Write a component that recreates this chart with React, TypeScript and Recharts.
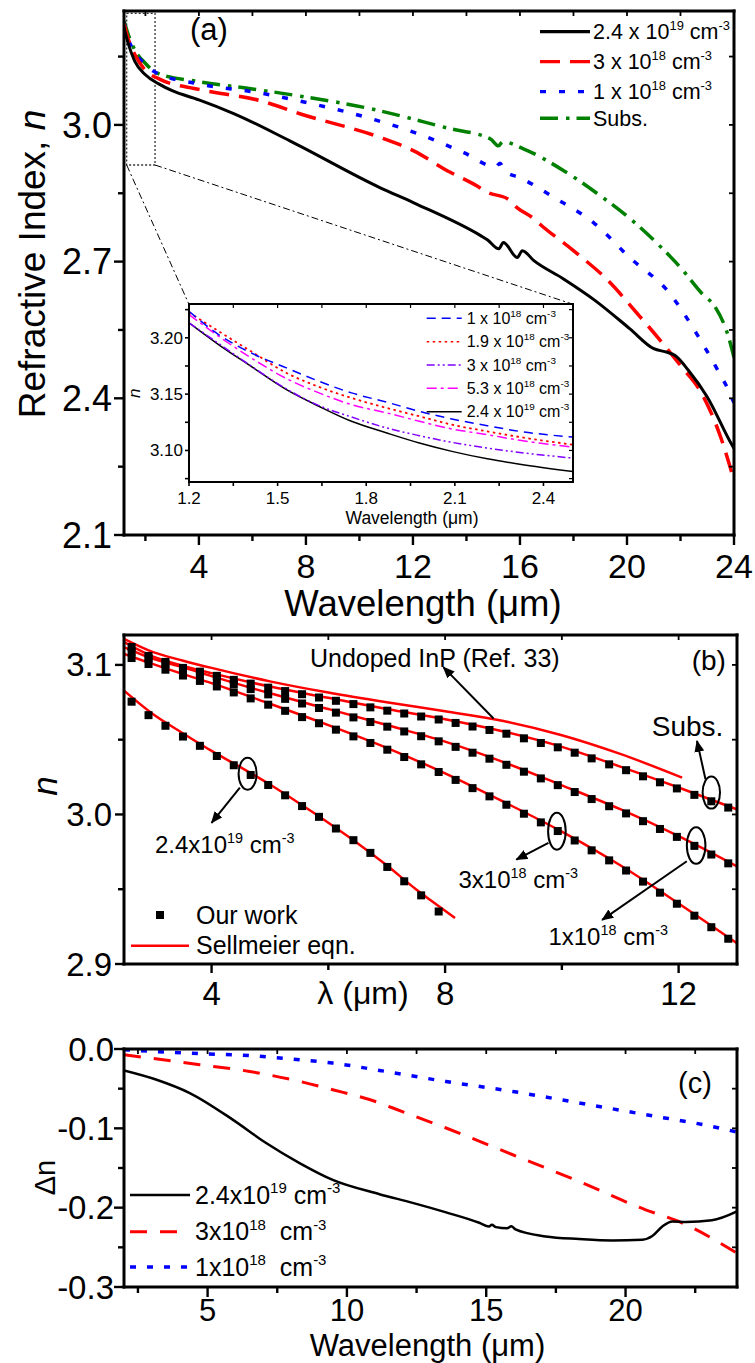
import React from 'react';
import {
  ComposedChart, Line, Scatter, XAxis, YAxis, ReferenceArea, ReferenceLine, ReferenceDot, CartesianGrid,
} from 'recharts';

const FONT = '"Liberation Sans", Arial, Helvetica, sans-serif';
const RED = '#ff0000', BLUE = '#0000ff', GREEN = '#008000', BLACK = '#000000', PURPLE = '#8000ff', MAGENTA = '#ff00ff';

// ---------------- Panel (a): refractive index vs wavelength ----------------
const aWl24e19 = [1.2, 1.35, 1.6, 2.0, 2.5, 3.0, 4.0, 5.3, 7.4, 10.78, 12.03, 14.53, 14.78, 15.21, 15.38, 15.9, 16.09, 16.52, 17.6, 18.8, 20.1, 21.0, 21.5, 21.8, 22.3, 23.0, 23.9, 24.0];
const aN24e19 = [3.213, 3.18, 3.14, 3.11, 3.09, 3.075, 3.055, 3.025, 2.965, 2.862, 2.829, 2.757, 2.748, 2.728, 2.742, 2.709, 2.724, 2.702, 2.663, 2.615, 2.553, 2.509, 2.501, 2.494, 2.461, 2.403, 2.30, 2.29];
const aWl3e18 = [1.2, 1.35, 1.6, 2.0, 2.55, 4.0, 6.3, 7.8, 10.8, 12.03, 13.3, 14.4, 14.78, 15.53, 15.9, 16.52, 16.77, 18.0, 19.3, 20.4, 21.4, 22.0, 22.8, 23.5, 24.0];
const aN3e18 = [3.222, 3.19, 3.155, 3.12, 3.10, 3.078, 3.053, 3.024, 2.972, 2.943, 2.899, 2.866, 2.852, 2.838, 2.818, 2.794, 2.781, 2.724, 2.658, 2.585, 2.516, 2.472, 2.41, 2.315, 2.22];
const aWl1e18 = [1.2, 1.35, 1.6, 2.0, 2.42, 4.0, 6.3, 7.8, 10.3, 12.4, 13.9, 15.1, 15.25, 15.45, 16.0, 17.3, 18.8, 20.1, 21.6, 22.6, 23.4, 23.8, 24.0];
const aN1e18 = [3.224, 3.19, 3.16, 3.132, 3.114, 3.090, 3.070, 3.052, 3.016, 2.976, 2.939, 2.908, 2.916, 2.898, 2.884, 2.84, 2.783, 2.709, 2.63, 2.542, 2.461, 2.417, 2.39];
const aWlSubs = [1.2, 1.35, 1.6, 2.0, 2.42, 4.0, 6.0, 7.8, 10.3, 13.3, 14.9, 15.2, 15.35, 16.15, 17.65, 18.9, 20.3, 21.4, 22.0, 22.8, 23.3, 23.8, 24.0];
const aNSubs = [3.228, 3.20, 3.165, 3.135, 3.114, 3.095, 3.079, 3.063, 3.037, 2.993, 2.969, 2.954, 2.963, 2.947, 2.899, 2.849, 2.785, 2.724, 2.687, 2.63, 2.60, 2.534, 2.49];

const aXTicks = [2, 4, 6, 8, 10, 12, 14, 16, 18, 20, 22, 24];
const aXMajor = [4, 8, 12, 16, 20, 24];
const aTopTicks = [2, 4, 6, 8, 10, 12, 14, 16, 18, 20, 22];
const aYTicks = [2.1, 2.25, 2.4, 2.55, 2.7, 2.85, 3.0, 3.15];
const aYMajor = [2.1, 2.4, 2.7, 3.0];
const aRightTicks = [2.25, 2.4, 2.55, 2.7, 2.85, 3.0, 3.15];

// ---------------- Inset of (a) ----------------
const iWl = [1.2, 1.3, 1.41, 1.53, 1.64, 1.75, 1.87, 1.98, 2.09, 2.21, 2.32, 2.5];
const iN1e18 = [3.2235, 3.2029, 3.1866, 3.1733, 3.1614, 3.1511, 3.1428, 3.1347, 3.1279, 3.122, 3.1169, 3.1119];
const iN19e18 = [3.2225, 3.2059, 3.1880, 3.1688, 3.1564, 3.1466, 3.1377, 3.1303, 3.1229, 3.1169, 3.1119, 3.1051];
const iN3e18 = [3.2133, 3.1950, 3.1750, 3.1546, 3.1398, 3.1297, 3.1199, 3.1131, 3.1072, 3.1021, 3.0982, 3.0932];
const iN53e18 = [3.2207, 3.2014, 3.1822, 3.1638, 3.1511, 3.1407, 3.1333, 3.1259, 3.1191, 3.114, 3.109, 3.103];
const iN24e19 = [3.2133, 3.194, 3.1747, 3.154, 3.1392, 3.1259, 3.1155, 3.1066, 3.0992, 3.0926, 3.0878, 3.0813];
const iXTicks = [1.2, 1.35, 1.5, 1.65, 1.8, 1.95, 2.1, 2.25, 2.4];
const iXMajor = [1.2, 1.5, 1.8, 2.1, 2.4];
const iYTicks = [3.075, 3.1, 3.125, 3.15, 3.175, 3.2, 3.225];
const iYMajor = [3.1, 3.15, 3.2];

// ---------------- Panel (b): measured n and Sellmeier fits ----------------
const bWlUndoped = [2.5, 3.0, 3.5, 4.0, 5.0, 6.0, 7.0, 8.0, 9.0, 10.0, 11.0, 12.06];
const bNUndoped = [3.1174, 3.1085, 3.1030, 3.0980, 3.0890, 3.0815, 3.0750, 3.0690, 3.0625, 3.0530, 3.0405, 3.0246];
const bWlFit = [2.5, 3.0, 3.5, 4.0, 5.0, 6.0, 7.0, 8.0, 9.0, 10.0, 11.0, 12.0, 13.0];
const bFitSubs = [3.1152, 3.1055, 3.0995, 3.0945, 3.0855, 3.0780, 3.0705, 3.0637, 3.0555, 3.0452, 3.0320, 3.0180, 3.0034];
const bFit1e18 = [3.1119, 3.1040, 3.0985, 3.0925, 3.0810, 3.0705, 3.0598, 3.0487, 3.0350, 3.0195, 3.0035, 2.9855, 2.9653];
const bFit3e18 = [3.1074, 3.1005, 3.0940, 3.0878, 3.0740, 3.0597, 3.0445, 3.0275, 3.0085, 2.9885, 2.9660, 2.9405, 2.9139];
const bWlFit24 = [2.5, 3.0, 3.5, 4.0, 4.5, 5.0, 5.5, 6.0, 6.5, 7.0, 7.5, 7.74, 8.17];
const bFit24e19 = [3.0828, 3.0670, 3.0545, 3.0425, 3.0315, 3.0200, 3.0075, 2.9945, 2.9808, 2.9660, 2.9500, 2.9430, 2.9307];

const bWlMeas = [2.63, 2.92, 3.21, 3.51, 3.80, 4.09, 4.38, 4.67, 4.97, 5.26, 5.55, 5.84, 6.13, 6.43, 6.72, 7.01, 7.30, 7.59, 7.89, 8.18, 8.47, 8.76, 9.05, 9.35, 9.64, 9.93, 10.22, 10.51, 10.81, 11.10, 11.39, 11.68, 11.97, 12.27, 12.56, 12.85];
const bMeasSubs = [3.112, 3.106, 3.102, 3.098, 3.0955, 3.0927, 3.090, 3.0875, 3.0848, 3.0825, 3.0804, 3.0782, 3.076, 3.0738, 3.0716, 3.0694, 3.0675, 3.0655, 3.0635, 3.0612, 3.0588, 3.0565, 3.054, 3.0509, 3.0478, 3.0449, 3.0413, 3.0375, 3.0335, 3.0296, 3.0255, 3.0215, 3.0174, 3.0131, 3.0088, 3.0046];
const bMeas1e18 = [3.1088, 3.1043, 3.1007, 3.0974, 3.0939, 3.0905, 3.0871, 3.0838, 3.0803, 3.0773, 3.0742, 3.0712, 3.0681, 3.0649, 3.0618, 3.0587, 3.0555, 3.0523, 3.0489, 3.0452, 3.0413, 3.0373, 3.0332, 3.0286, 3.0241, 3.0196, 3.015, 3.0103, 3.0055, 3.0007, 2.9955, 2.9903, 2.985, 2.979, 2.9732, 2.9673];
const bMeas3e18 = [3.1046, 3.1006, 3.0968, 3.0929, 3.0893, 3.0856, 3.0816, 3.0776, 3.0734, 3.0693, 3.0651, 3.061, 3.0567, 3.0522, 3.0478, 3.0433, 3.0384, 3.0335, 3.0284, 3.0231, 3.0176, 3.0121, 3.0065, 3.0005, 2.9947, 2.9889, 2.9826, 2.976, 2.9693, 2.9625, 2.9551, 2.9477, 2.9403, 2.9323, 2.9246, 2.9169];
const bWlMeas24 = [2.63, 2.92, 3.21, 3.51, 3.80, 4.09, 4.38, 4.67, 4.97, 5.26, 5.55, 5.84, 6.13, 6.43, 6.72, 7.01, 7.30, 7.59, 7.89];
const bMeas24e19 = [3.0754, 3.0664, 3.0593, 3.0521, 3.0459, 3.0391, 3.0329, 3.0264, 3.0197, 3.0128, 3.0056, 2.9984, 2.9906, 2.9828, 2.9743, 2.9649, 2.9553, 2.9459, 2.9351];

const bXTicks = [4, 6, 8, 10, 12];
const bXMajor = [4, 8, 12];
const bYTicks = [2.9, 2.95, 3.0, 3.05, 3.1];
const bYMajor = [2.9, 3.0, 3.1];
const bRightTicks = [2.95, 3.0, 3.05, 3.1];

// ---------------- Panel (c): delta n ----------------
const cWl24e19 = [2.0, 3.17, 4.36, 5.9, 7.1, 8.3, 9.49, 11.17, 12.36, 13.56, 14.75, 15.1, 15.2, 15.35, 15.75, 15.9, 16.05, 17.13, 18.33, 19.52, 20.6, 20.96, 21.32, 21.68, 22.16, 23.1, 24.0];
const cD24e19 = [-0.027, -0.0387, -0.0555, -0.089, -0.1185, -0.1438, -0.165, -0.183, -0.194, -0.206, -0.219, -0.2237, -0.2215, -0.2245, -0.226, -0.2235, -0.2275, -0.2363, -0.2395, -0.2413, -0.2405, -0.2358, -0.2237, -0.2174, -0.2181, -0.216, -0.2048];
const cWl3e18 = [2.0, 4.72, 6.51, 8.3, 9.49, 11.17, 11.65, 13.56, 15.95, 18.33, 20.72, 21.91, 24.0];
const cD3e18 = [-0.0072, -0.0198, -0.0283, -0.0408, -0.0513, -0.068, -0.0744, -0.0996, -0.1333, -0.167, -0.2027, -0.2174, -0.2573];
const cWl1e18 = [2.0, 4.72, 6.51, 8.3, 9.49, 11.17, 13.56, 15.95, 18.33, 20.72, 23.1, 24.0];
const cD1e18 = [-0.001, -0.0059, -0.0084, -0.0135, -0.0177, -0.027, -0.041, -0.0535, -0.068, -0.0828, -0.0976, -0.1047];
const cXTicks = [2.5, 5, 7.5, 10, 12.5, 15, 17.5, 20, 22.5];
const cXMajor = [5, 10, 15, 20];
const cYTicks = [-0.3, -0.25, -0.2, -0.15, -0.1, -0.05, 0];
const cYMajor = [-0.3, -0.2, -0.1, 0];
const cRightTicks = [-0.25, -0.2, -0.15, -0.1, -0.05];

const zip = (xs: number[], ys: number[]) => xs.map((x, i) => ({ x, y: ys[i] }));

// dash styles
const DASH_A = { red: '20 10', blue: '6 13', green: '18 8 3.5 7' };
const DASH_I = { blue: '9 6', red: '2.5 3.5', purple: '8 3 2 3 2 3', magenta: '10 4 3 4' };
const DASH_C = { red: '17 13', blue: '6 11' };

const isIn = (v: number, arr: number[]) => arr.some((m) => Math.abs(m - v) < 1e-6);

type TickOpts = {
  side: 'bottom' | 'top' | 'left' | 'right';
  majors: number[];
  major: number;
  minor: number;
  sw: number;
  label?: boolean;
  fs?: number;
  off?: number;
  fmt?: (v: number) => string;
};

const makeTick = (o: TickOpts) => (props: any) => {
  const { x, y, payload } = props;
  const v = payload.value as number;
  const maj = isIn(v, o.majors);
  const len = maj ? o.major : o.minor;
  const ls = { stroke: '#000', strokeWidth: o.sw };
  let line: any = null;
  let text: any = null;
  const label = o.fmt ? o.fmt(v) : String(v);
  if (o.side === 'bottom') {
    line = <line x1={x} y1={y} x2={x} y2={y + len} {...ls} />;
    if (o.label && maj) {
      text = (
        <text x={x} y={y + (o.off || 0)} textAnchor="middle" fontSize={o.fs} fontFamily={FONT} fill="#000">{label}</text>
      );
    }
  } else if (o.side === 'top') {
    line = <line x1={x} y1={y} x2={x} y2={y + len} {...ls} />;
  } else if (o.side === 'left') {
    line = <line x1={x - len} y1={y} x2={x} y2={y} {...ls} />;
    if (o.label && maj) {
      text = (
        <text x={x - (o.off || 0)} y={y + (o.fs || 0) * 0.35} textAnchor="end" fontSize={o.fs} fontFamily={FONT} fill="#000">{label}</text>
      );
    }
  } else {
    line = <line x1={x - len} y1={y} x2={x} y2={y} {...ls} />;
  }
  return <g>{line}{text}</g>;
};

type FrameCfg = {
  xDomain: [number, number]; yDomain: [number, number];
  xTicks: number[]; xMajor: number[]; topTicks: number[];
  yTicks: number[]; yMajor: number[]; rightTicks: number[];
  major: number; minor: number; inward: number; sw: number;
  xFs: number; xOff: number; yFs: number; yOff: number;
  xFmt: (v: number) => string; yFmt: (v: number) => string;
};

function frameAxes(c: FrameCfg) {
  const axisLine = { stroke: '#000', strokeWidth: c.sw, strokeLinecap: 'square' as const };
  const common = { type: 'number' as const, allowDataOverflow: true, interval: 0 as const, tickSize: 0, tickMargin: 0, tickLine: false, axisLine };
  return [
    <XAxis key="xb" xAxisId={0} dataKey="x" domain={c.xDomain} ticks={c.xTicks} height={1} {...common}
      tick={makeTick({ side: 'bottom', majors: c.xMajor, major: c.major, minor: c.minor, sw: c.sw * 0.8, label: true, fs: c.xFs, off: c.xOff, fmt: c.xFmt })} />,
    <XAxis key="xt" xAxisId="top" orientation="top" dataKey="x" domain={c.xDomain} ticks={c.topTicks} height={1} {...common}
      tick={makeTick({ side: 'top', majors: c.topTicks, major: c.inward, minor: c.inward, sw: c.sw * 0.6 })} />,
    <YAxis key="yl" yAxisId={0} domain={c.yDomain} ticks={c.yTicks} width={1} {...common}
      tick={makeTick({ side: 'left', majors: c.yMajor, major: c.major, minor: c.minor, sw: c.sw * 0.8, label: true, fs: c.yFs, off: c.yOff, fmt: c.yFmt })} />,
    <YAxis key="yr" yAxisId="right" orientation="right" domain={c.yDomain} ticks={c.rightTicks} width={1} {...common}
      tick={makeTick({ side: 'right', majors: c.rightTicks, major: c.inward, minor: c.inward, sw: c.sw * 0.6 })} />,
  ];
}

const lineCommon = { type: 'monotone' as const, dataKey: 'y', dot: false, activeDot: false, isAnimationActive: false };

function ConcText({ x, y, fs, base, exp, gap = ' ', anchor = 'start', supRatio = 0.6 }: any) {
  const s = fs * supRatio;
  const up = fs * 0.42;
  return (
    <text x={x} y={y} fontSize={fs} fontFamily={FONT} fill="#000" textAnchor={anchor} style={{ whiteSpace: 'pre' }}>
      {base}
      <tspan fontSize={s} dy={-up}>{exp}</tspan>
      <tspan dy={up}>{gap + 'cm'}</tspan>
      <tspan fontSize={s} dy={-up}>-3</tspan>
    </text>
  );
}

const ellipseShape = (rx: number, ry: number) => (p: any) => (
  <ellipse cx={p.cx} cy={p.cy} rx={rx} ry={ry} fill="none" stroke="#000" strokeWidth={2} />
);
const textShape = (txt: string, fs: number) => (p: any) => (
  <text x={p.cx} y={p.cy} fontSize={fs} fontFamily={FONT} fill="#000">{txt}</text>
);
const concShape = (base: string, exp: string, fs: number) => (p: any) => (
  <ConcText x={p.cx} y={p.cy} fs={fs} base={base} exp={exp} />
);
const squareShape = (p: any) => <rect x={p.cx - 4} y={p.cy - 4} width={8} height={8} fill="#000" />;

function PanelA() {
  return (
    <ComposedChart width={755} height={600} margin={{ top: 10, right: 20, bottom: 64, left: 123 }}>
      {frameAxes({
        xDomain: [1.2, 24], yDomain: [2.1, 3.25], xTicks: aXTicks, xMajor: aXMajor, topTicks: aTopTicks,
        yTicks: aYTicks, yMajor: aYMajor, rightTicks: aRightTicks, major: 10, minor: 6, inward: 5, sw: 3,
        xFs: 34, xOff: 43, yFs: 36, yOff: 12, xFmt: (v) => String(v), yFmt: (v) => v.toFixed(1),
      })}
      <ReferenceArea x1={1.3} x2={2.36} y1={2.912} y2={3.245} fill="none" stroke="#333" strokeWidth={1.3} strokeDasharray="2 2" />
      <ReferenceLine segment={[{ x: 1.3, y: 2.912 }, { x: 3.63, y: 2.606 }]} stroke="#000" strokeWidth={1} strokeDasharray="7 3 2 3" />
      <ReferenceLine segment={[{ x: 2.36, y: 2.912 }, { x: 18.0, y: 2.606 }]} stroke="#000" strokeWidth={1} strokeDasharray="7 3 2 3" />
      <Line {...lineCommon} data={zip(aWlSubs, aNSubs)} stroke={GREEN} strokeWidth={3.5} strokeDasharray={DASH_A.green} />
      <Line {...lineCommon} data={zip(aWl1e18, aN1e18)} stroke={BLUE} strokeWidth={3.5} strokeDasharray={DASH_A.blue} />
      <Line {...lineCommon} data={zip(aWl3e18, aN3e18)} stroke={RED} strokeWidth={3.5} strokeDasharray={DASH_A.red} />
      <Line {...lineCommon} data={zip(aWl24e19, aN24e19)} stroke={BLACK} strokeWidth={3} />
    </ComposedChart>
  );
}

function Inset() {
  return (
    <ComposedChart width={470} height={240} margin={{ top: 7, right: 16, bottom: 53, left: 68 }}>
      <CartesianGrid horizontal={false} vertical={false} fill="#ffffff" />
      {frameAxes({
        xDomain: [1.2, 2.5], yDomain: [3.072, 3.23], xTicks: iXTicks, xMajor: iXMajor, topTicks: iXTicks,
        yTicks: iYTicks, yMajor: iYMajor, rightTicks: iYTicks, major: 4, minor: 4, inward: 4, sw: 2,
        xFs: 17, xOff: 22, yFs: 17, yOff: 6, xFmt: (v) => v.toFixed(1), yFmt: (v) => v.toFixed(2),
      })}
      <Line {...lineCommon} data={zip(iWl, iN24e19)} stroke={BLACK} strokeWidth={1.5} />
      <Line {...lineCommon} data={zip(iWl, iN3e18)} stroke={PURPLE} strokeWidth={1.5} strokeDasharray={DASH_I.purple} />
      <Line {...lineCommon} data={zip(iWl, iN53e18)} stroke={MAGENTA} strokeWidth={1.5} strokeDasharray={DASH_I.magenta} />
      <Line {...lineCommon} data={zip(iWl, iN19e18)} stroke={RED} strokeWidth={1.8} strokeDasharray={DASH_I.red} />
      <Line {...lineCommon} data={zip(iWl, iN1e18)} stroke={BLUE} strokeWidth={1.5} strokeDasharray={DASH_I.blue} />
    </ComposedChart>
  );
}

function PanelB() {
  const arrow = { stroke: '#000', strokeWidth: 2, markerEnd: 'url(#arrowHead)' };
  return (
    <ComposedChart width={755} height={420} margin={{ top: 34, right: 17, bottom: 55, left: 123 }}>
      {frameAxes({
        xDomain: [2.5, 13], yDomain: [2.9, 3.12], xTicks: bXTicks, xMajor: bXMajor, topTicks: bXTicks,
        yTicks: bYTicks, yMajor: bYMajor, rightTicks: bRightTicks, major: 9, minor: 6, inward: 5, sw: 3,
        xFs: 33, xOff: 41, yFs: 33, yOff: 12, xFmt: (v) => String(v), yFmt: (v) => v.toFixed(1),
      })}
      <Scatter data={zip(bWlMeas, bMeasSubs)} dataKey="y" shape={squareShape} isAnimationActive={false} />
      <Scatter data={zip(bWlMeas, bMeas1e18)} dataKey="y" shape={squareShape} isAnimationActive={false} />
      <Scatter data={zip(bWlMeas, bMeas3e18)} dataKey="y" shape={squareShape} isAnimationActive={false} />
      <Scatter data={zip(bWlMeas24, bMeas24e19)} dataKey="y" shape={squareShape} isAnimationActive={false} />
      <Line {...lineCommon} data={zip(bWlUndoped, bNUndoped)} stroke={RED} strokeWidth={2.5} />
      <Line {...lineCommon} data={zip(bWlFit, bFitSubs)} stroke={RED} strokeWidth={2.5} />
      <Line {...lineCommon} data={zip(bWlFit, bFit1e18)} stroke={RED} strokeWidth={2.5} />
      <Line {...lineCommon} data={zip(bWlFit, bFit3e18)} stroke={RED} strokeWidth={2.5} />
      <Line {...lineCommon} data={zip(bWlFit24, bFit24e19)} stroke={RED} strokeWidth={2.5} />

      <ReferenceDot x={5.685} y={3.0987} shape={textShape('Undoped InP (Ref. 33)', 25)} />
      <ReferenceLine segment={[{ x: 8.83, y: 3.0642 }, { x: 7.97, y: 3.0985 }]} {...arrow} />
      <ReferenceDot x={11.54} y={3.0526} shape={textShape('Subs.', 28)} />
      <ReferenceDot x={12.56} y={3.0146} shape={ellipseShape(8.7, 16)} />
      <ReferenceLine segment={[{ x: 12.46, y: 3.0235 }, { x: 12.315, y: 3.0492 }]} {...arrow} />
      <ReferenceDot x={12.3} y={2.9792} shape={ellipseShape(9.3, 18.3)} />
      <ReferenceLine segment={[{ x: 12.14, y: 2.9687 }, { x: 10.69, y: 2.9295 }]} {...arrow} />
      <ReferenceDot x={9.77} y={2.9128} shape={concShape('1x10', '18', 24)} />
      <ReferenceDot x={9.915} y={2.9888} shape={ellipseShape(8.8, 18.5)} />
      <ReferenceLine segment={[{ x: 9.77, y: 2.981 }, { x: 9.22, y: 2.9698 }]} {...arrow} />
      <ReferenceDot x={8.23} y={2.9508} shape={concShape('3x10', '18', 24)} />
      <ReferenceDot x={4.617} y={3.0273} shape={ellipseShape(9, 16)} />
      <ReferenceLine segment={[{ x: 4.485, y: 3.0179 }, { x: 4.0, y: 2.9944 }]} {...arrow} />
      <ReferenceDot x={3.03} y={2.9743} shape={concShape('2.4x10', '19', 24)} />
    </ComposedChart>
  );
}

function PanelC() {
  return (
    <ComposedChart width={755} height={343} margin={{ top: 28, right: 17, bottom: 75, left: 123 }}>
      {frameAxes({
        xDomain: [2, 24], yDomain: [-0.3, 0], xTicks: cXTicks, xMajor: cXMajor, topTicks: cXTicks,
        yTicks: cYTicks, yMajor: cYMajor, rightTicks: cRightTicks, major: 10, minor: 6, inward: 5, sw: 3,
        xFs: 31, xOff: 34, yFs: 33, yOff: 10, xFmt: (v) => String(v), yFmt: (v) => v.toFixed(1),
      })}
      <Line {...lineCommon} data={zip(cWl1e18, cD1e18)} stroke={BLUE} strokeWidth={3.5} strokeDasharray={DASH_C.blue} />
      <Line {...lineCommon} data={zip(cWl3e18, cD3e18)} stroke={RED} strokeWidth={3} strokeDasharray={DASH_C.red} />
      <Line {...lineCommon} data={zip(cWl24e19, cD24e19)} stroke={BLACK} strokeWidth={2.5} />
    </ComposedChart>
  );
}

function Overlay() {
  const t = { fontFamily: FONT, fill: '#000' };
  const aLegend = [
    { base: '2.4 x 10', exp: '19', color: BLACK, dash: undefined, y: 31.7 },
    { base: '3 x 10', exp: '18', color: RED, dash: DASH_A.red, y: 61.7 },
    { base: '1 x 10', exp: '18', color: BLUE, dash: DASH_A.blue, y: 91.7 },
  ];
  const iLegend = [
    { base: '1 x 10', exp: '18', color: BLUE, dash: DASH_I.blue, y: 318.3 },
    { base: '1.9 x 10', exp: '18', color: RED, dash: DASH_I.red, y: 341.7 },
    { base: '3 x 10', exp: '18', color: PURPLE, dash: DASH_I.purple, y: 365 },
    { base: '5.3 x 10', exp: '18', color: MAGENTA, dash: DASH_I.magenta, y: 388.3 },
    { base: '2.4 x 10', exp: '19', color: BLACK, dash: undefined, y: 411.7 },
  ];
  const cLegend = [
    { base: '2.4x10', exp: '19', gap: ' ', color: BLACK, dash: undefined, w: 2.5, y: 1195 },
    { base: '3x10', exp: '18', gap: '  ', color: RED, dash: DASH_C.red, w: 3, y: 1231.7 },
    { base: '1x10', exp: '18', gap: '  ', color: BLUE, dash: DASH_C.blue, w: 3.5, y: 1267 },
  ];
  return (
    <svg width={755} height={1363} style={{ position: 'absolute', left: 0, top: 0, pointerEvents: 'none' }}>
      <defs>
        <marker id="arrowHead" viewBox="0 0 12 10" refX="11" refY="5" markerWidth="12" markerHeight="10" markerUnits="userSpaceOnUse" orient="auto">
          <path d="M0,0 L12,5 L0,10 z" fill="#000" />
        </marker>
      </defs>
      {/* Panel (a) */}
      <text x={190} y={40} fontSize={31} {...t}>(a)</text>
      {aLegend.map((r, i) => (
        <g key={i}>
          <line x1={540} x2={590} y1={r.y} y2={r.y} stroke={r.color} strokeWidth={3.2} strokeDasharray={r.dash} />
          <ConcText x={593} y={r.y + 7.5} fs={21.5} base={r.base} exp={r.exp} supRatio={0.6} />
        </g>
      ))}
      <line x1={540} x2={590} y1={118.3} y2={118.3} stroke={GREEN} strokeWidth={3.5} strokeDasharray={DASH_A.green} />
      <text x={593} y={125.8} fontSize={21.5} {...t}>Subs.</text>
      <text transform="translate(45,264) rotate(-90)" textAnchor="middle" fontSize={37} {...t}>
        Refractive Index, <tspan fontStyle="italic">n</tspan>
      </text>
      <text x={423} y={616} textAnchor="middle" fontSize={36.5} {...t}>Wavelength (μm)</text>

      {/* Inset */}
      {iLegend.map((r, i) => (
        <g key={i}>
          <line x1={426.7} x2={461.7} y1={r.y} y2={r.y} stroke={r.color} strokeWidth={1.6} strokeDasharray={r.dash} />
          <ConcText x={466.7} y={r.y + 5.5} fs={16} base={r.base} exp={r.exp} supRatio={0.62} />
        </g>
      ))}
      <text x={412} y={524} textAnchor="middle" fontSize={17.5} {...t}>Wavelength (μm)</text>
      <text transform="translate(140,393.3) rotate(-90)" textAnchor="middle" fontSize={17} fontStyle="italic" {...t}>n</text>

      {/* Panel (b) */}
      <text x={691.7} y={670} fontSize={28} {...t}>(b)</text>
      <rect x={156} y={911} width={8} height={8} fill="#000" />
      <text x={196} y={923.5} fontSize={25} {...t}>Our work</text>
      <line x1={131} x2={189} y1={945.7} y2={945.7} stroke={RED} strokeWidth={2.5} />
      <text x={196} y={954} fontSize={25} {...t}>Sellmeier eqn.</text>
      <text x={363} y={1004} textAnchor="middle" fontSize={32} {...t}>λ (μm)</text>
      <text transform="translate(56.7,786) rotate(-90)" textAnchor="middle" fontSize={35} fontStyle="italic" {...t}>n</text>

      {/* Panel (c) */}
      <text x={678} y={1093} fontSize={29} {...t}>(c)</text>
      {cLegend.map((r, i) => (
        <g key={i}>
          <line x1={130} x2={190} y1={r.y} y2={r.y} stroke={r.color} strokeWidth={r.w} strokeDasharray={r.dash} />
          <ConcText x={195} y={r.y + 8.5} fs={25} base={r.base} exp={r.exp} gap={r.gap} />
        </g>
      ))}
      <text x={427.5} y={1355.5} textAnchor="middle" fontSize={31} {...t}>Wavelength (μm)</text>
      <text transform="translate(55,1177.5) rotate(-90)" textAnchor="middle" fontSize={29} {...t}>Δn</text>
    </svg>
  );
}

export default function App() {
  return (
    <div style={{ position: 'absolute', left: 0, top: 0, width: 755, height: 1363, background: '#fff', fontFamily: FONT }}>
      <div style={{ position: 'absolute', left: 0, top: 0 }}><PanelA /></div>
      <div style={{ position: 'absolute', left: 120, top: 296 }}><Inset /></div>
      <div style={{ position: 'absolute', left: 0, top: 600 }}><PanelB /></div>
      <div style={{ position: 'absolute', left: 0, top: 1020 }}><PanelC /></div>
      <Overlay />
    </div>
  );
}
